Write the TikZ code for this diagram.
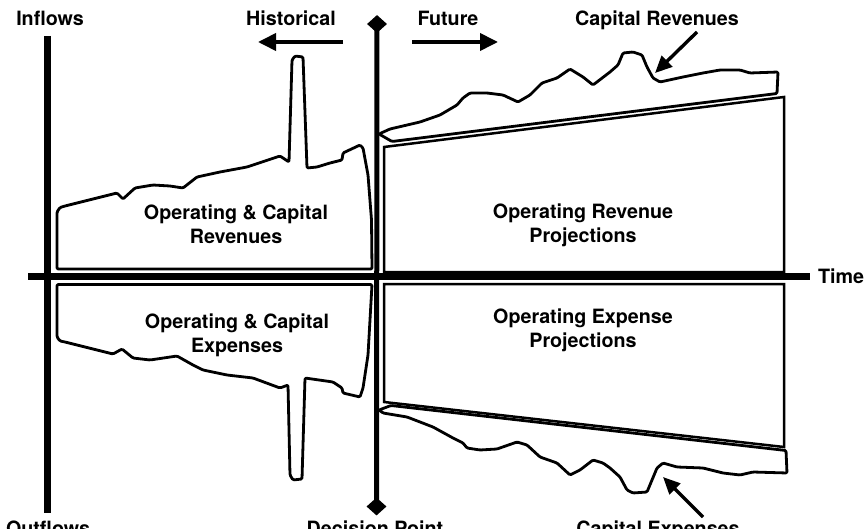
\documentclass[tikz,border=0pt]{standalone}
\usepackage{fontspec}
\setmainfont{TeX Gyre Heros}
\usetikzlibrary{arrows.meta,shapes.geometric}
\begin{document}
\begin{tikzpicture}[x=1pt,y=-1pt,
  lbl/.style={font=\fontsize{19.7}{24}\selectfont\bfseries, inner sep=0pt, align=center},
  blob/.style={line width=2.8pt, line join=round, rounded corners=1.2pt},
  boxline/.style={line width=2.5pt, line join=miter},
  axisline/.style={line width=6.5pt},
  decline/.style={line width=5pt},
  dirarrow/.style={line width=3.8pt, -{Triangle[length=18pt,width=17pt]}},
  pointer/.style={line width=3.4pt, -{Triangle[length=17pt,width=15pt]}},
  marker/.style={diamond, fill=black, draw=none, minimum width=20pt, minimum height=18pt, inner sep=0pt}
]
\useasboundingbox (0,0) rectangle (864,529);

% labels
\node[lbl, anchor=base] (inflows) at (50,25.5) {Inflows};
\node[lbl, anchor=base] (historical) at (291,25.5) {Historical};
\node[lbl, anchor=base] (future) at (448,25.5) {Future};
\node[lbl, anchor=base] (caprevlbl) at (657,25.5) {Capital Revenues};
\node[lbl, anchor=base west] (time) at (818,283.5) {Time};
\node[lbl, anchor=base] (outflows) at (48,535.5) {Outflows};
\node[lbl, anchor=base] (decision) at (375,535.5) {Decision Point};
\node[lbl, anchor=base] (capexplbl) at (658,535.5) {Capital Expenses};

\node[lbl] (opcaprev) at (236,224.5) {Operating \& Capital\\Revenues};
\node[lbl] (opcapexp) at (237,335) {Operating \& Capital\\Expenses};
\node[lbl] (oprevproj) at (583,225) {Operating Revenue\\Projections};
\node[lbl] (opexpproj) at (583,330.5) {Operating Expense\\Projections};

% historical blobs
\draw[blob] (372,269) -- (57,269) -- (57,212) -- (60,207.5) -- (65,206) -- (117,193) -- (123,199)
  -- (135,188) -- (153,185) -- (170,186) -- (183,188) -- (197,177) -- (220,172) -- (247,167)
  -- (280,156) -- (289,162) -- (292,60) -- (295,56) -- (303,57) -- (307,168) -- (317,167)
  -- (330,163) -- (342,160) -- (343,153) -- (360,145) -- (363,148) -- (368,175) -- (371.5,220) -- cycle;
\draw[blob] (372,284.5) -- (57,284.5) -- (57,337) -- (60,341) -- (65,342) -- (113,354) -- (122,349)
  -- (133,358) -- (150,360) -- (177,356) -- (193,365) -- (203,370) -- (227,375) -- (253,378)
  -- (280,388) -- (288,385) -- (290,475) -- (293,480) -- (302,479) -- (305,378) -- (333,382)
  -- (342,388) -- (343,393) -- (360,397) -- (363,388) -- (368,355) -- cycle;

% projection boxes
\draw[boxline] (384,147) -- (784,97) -- (784,272) -- (384,272) -- cycle;
\draw[boxline] (384,284) -- (784,284) -- (784,447) -- (384,402) -- cycle;

% capital revenues / expenses
\draw[blob] (379,134) -- (390,129) -- (420,122) -- (440,115) -- (457,105) -- (463,98) -- (470,93)
  -- (487,93) -- (503,95) -- (518,102) -- (530,95) -- (542,83) -- (557,78) -- (570,69) -- (583,77)
  -- (593,85) -- (610,72) -- (618,65) -- (623,53) -- (633,52) -- (642,55) -- (647,67) -- (653,78)
  -- (660,82) -- (683,77) -- (703,73) -- (720,70) -- (740,70) -- (750,73) -- (778,72) -- (777,93.5)
  -- (392,141.5) -- cycle;
\draw[blob] (379,410) -- (391,405.5) -- (786,450.5) -- (787,473) -- (753,472) -- (740,475) -- (723,473)
  -- (703,468) -- (677,467) -- (663,463) -- (657,468) -- (652,480) -- (647,492) -- (633,493)
  -- (627,490) -- (620,477) -- (610,468) -- (603,463) -- (593,460) -- (580,470) -- (570,475)
  -- (557,463) -- (540,457) -- (527,445) -- (517,442) -- (497,449) -- (480,450) -- (467,448)
  -- (463,443) -- (453,438) -- (433,427) -- (407,417) -- (383,413) -- cycle;

% axes
\coordinate (inTop) at (47.5,36);
\coordinate (outBot) at (47.5,513);
\draw[axisline, line width=7pt] (inTop) -- (outBot);
\coordinate (tStart) at (28,276.5);
\coordinate (tEnd) at (810,276.5);
\draw[axisline] (tStart) -- (tEnd);

% decision line
\node[marker] (dtop) at (377,24) {};
\node[marker] (dbot) at (376.5,506.5) {};
\draw[decline] (dtop.center) -- (dbot.center);

% direction arrows
\coordinate (histS) at (343,42);
\coordinate (histE) at (258,42);
\draw[dirarrow] (histS) -- (histE);
\coordinate (futS) at (412,42);
\coordinate (futE) at (498,42);
\draw[dirarrow] (futS) -- (futE);

% pointers
\coordinate (crTail) at (697,32);
\coordinate (crTip) at (655,73);
\draw[pointer] (crTail) -- (crTip);
\coordinate (ceTail) at (703,517);
\coordinate (ceTip) at (663,477);
\draw[pointer] (ceTail) -- (ceTip);
\end{tikzpicture}
\end{document}
